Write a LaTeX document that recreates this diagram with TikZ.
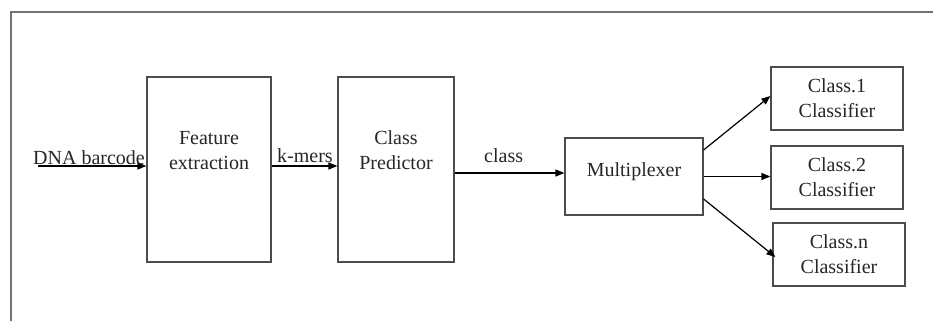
\documentclass[tikz,border=0pt]{standalone}
\usepackage{fontspec}
\setmainfont{Liberation Serif}
\usetikzlibrary{arrows.meta}
\begin{document}
\begin{tikzpicture}[x=1pt,y=-1pt,
  box/.style={draw=black!70,line width=1.2pt,align=center,inner sep=0pt,
    font=\fontsize{20}{25}\selectfont,text=black!85},
  lbl/.style={inner sep=0pt,font=\fontsize{20}{25}\selectfont,text=black!85},
  arr/.style={-{Triangle[length=9pt,width=7pt]},line width=1.2pt}]
\useasboundingbox(0,0)rectangle(933,321);
% frame
\draw[black!55,line width=1.5pt](11,321)--(11,12)--(933,12);
%
\node[box,minimum width=124pt,minimum height=185pt,text depth=39pt](feat)at(209,169.5){Feature\\extraction};
\node[box,minimum width=116pt,minimum height=185pt,text depth=39pt](pred)at(396,169.5){Class\\Predictor};
\node[box,minimum width=138pt,minimum height=77pt,text depth=14.5pt](mux)at(634,176.5){Multiplexer};
\node[box,minimum width=132pt,minimum height=63pt](cone)at(837,98.5){Class.1\\Classifier};
\node[box,minimum width=132pt,minimum height=63pt](ctwo)at(837,177.5){Class.2\\Classifier};
\node[box,minimum width=132pt,minimum height=63pt](cn)at(839,254.5){Class.n\\Classifier};
%
\coordinate(in)at(38,166);
\coordinate(muxin)at([yshift=3.5pt]mux.west);
\draw[arr](in)--(in-|feat.west);
\draw[arr](feat.east|-in)--(pred.west|-in);
\draw[arr](pred.east|-muxin)--(muxin);
\draw[arr]([yshift=26.5pt]mux.east)--([yshift=2.5pt]cone.west);
\draw[arr](mux.east)--(mux.east-|ctwo.west);
\draw[arr]([yshift=-22.5pt]mux.east)--([xshift=3pt,yshift=-2.5pt]cn.west);
%
\node[lbl,anchor=base west](dna)at(33,164){DNA barcode};
\node[lbl,anchor=base west](kmer)at(277,162.5){k-mers};
\node[lbl,anchor=base west](cls)at(484,162){class};
\end{tikzpicture}
\end{document}
